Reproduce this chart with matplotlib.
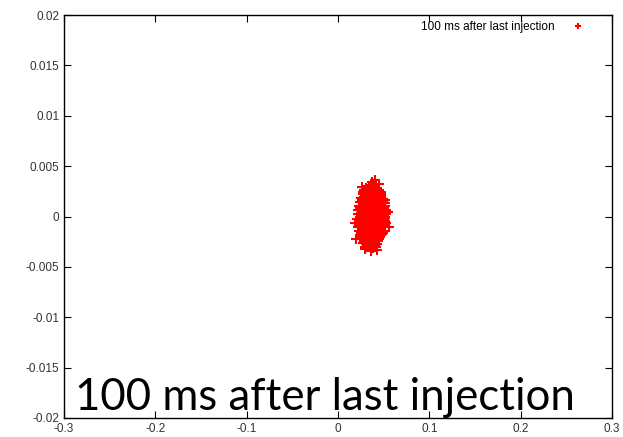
import numpy as np
import matplotlib
matplotlib.use('Agg')
from matplotlib import pyplot as plt

# estimated particle positions (x, y)
xs = [0.037, 0.040,
      0.034, 0.038, 0.041,
      0.029, 0.033, 0.037, 0.041, 0.045,
      0.027, 0.031, 0.035, 0.039, 0.043, 0.047,
      0.025, 0.029, 0.033, 0.037, 0.041, 0.045, 0.049,
      0.024, 0.028, 0.032, 0.036, 0.040, 0.044, 0.048, 0.051,
      0.023, 0.027, 0.031, 0.035, 0.039, 0.043, 0.047, 0.051,
      0.022, 0.026, 0.030, 0.034, 0.038, 0.042, 0.046, 0.050, 0.053,
      0.022, 0.025, 0.029, 0.033, 0.037, 0.041, 0.045, 0.049, 0.053,
      0.021, 0.026, 0.030, 0.034, 0.038, 0.042, 0.046, 0.050, 0.052,
      0.022, 0.025, 0.029, 0.033, 0.037, 0.041, 0.045, 0.049, 0.053,
      0.022, 0.026, 0.030, 0.034, 0.038, 0.042, 0.046, 0.050,
      0.023, 0.027, 0.031, 0.035, 0.039, 0.043, 0.047, 0.050,
      0.024, 0.028, 0.032, 0.036, 0.040, 0.044, 0.048,
      0.025, 0.029, 0.033, 0.037, 0.041, 0.045,
      0.027, 0.031, 0.035, 0.039, 0.043,
      0.030, 0.034, 0.038, 0.042,
      # in-between rows
      0.031, 0.035, 0.039, 0.043,
      0.027, 0.031, 0.035, 0.039, 0.043, 0.047,
      0.026, 0.030, 0.034, 0.038, 0.042, 0.046, 0.049,
      0.024, 0.028, 0.032, 0.036, 0.040, 0.044, 0.048,
      0.024, 0.028, 0.032, 0.036, 0.040, 0.044, 0.048, 0.051,
      0.024, 0.028, 0.032, 0.036, 0.040, 0.044, 0.048, 0.051,
      0.024, 0.028, 0.032, 0.036, 0.040, 0.044, 0.048, 0.051,
      0.025, 0.029, 0.033, 0.037, 0.041, 0.045, 0.049,
      0.026, 0.030, 0.034, 0.038, 0.042, 0.046,
      0.028, 0.032, 0.036, 0.040, 0.044,
      0.032, 0.036, 0.040,
      # stragglers
      0.020, 0.056, 0.045, 0.030, 0.047, 0.019, 0.043, 0.052, 0.036, 0.055, 0.026, 0.040]
ys = [0.0034, 0.0036,
      0.0030, 0.0031, 0.0029,
      0.0026, 0.0027, 0.0026, 0.0025, 0.0026,
      0.0022, 0.0021, 0.0023, 0.0022, 0.0021, 0.0022,
      0.0018, 0.0019, 0.0017, 0.0018, 0.0019, 0.0018, 0.0017,
      0.0014, 0.0013, 0.0015, 0.0014, 0.0013, 0.0014, 0.0015, 0.0013,
      0.0010, 0.0011, 0.0009, 0.0010, 0.0011, 0.0010, 0.0009, 0.0010,
      0.0006, 0.0007, 0.0005, 0.0006, 0.0007, 0.0006, 0.0005, 0.0006, 0.0006,
      0.0002, 0.0003, 0.0001, 0.0002, 0.0003, 0.0002, 0.0001, 0.0002, 0.0002,
      -0.0002, -0.0001, -0.0003, -0.0002, -0.0001, -0.0002, -0.0003, -0.0002, -0.0001,
      -0.0006, -0.0005, -0.0007, -0.0006, -0.0005, -0.0006, -0.0007, -0.0006, -0.0006,
      -0.0010, -0.0011, -0.0009, -0.0010, -0.0011, -0.0010, -0.0009, -0.0010,
      -0.0014, -0.0013, -0.0015, -0.0014, -0.0013, -0.0014, -0.0015, -0.0014,
      -0.0018, -0.0019, -0.0017, -0.0018, -0.0019, -0.0018, -0.0017,
      -0.0022, -0.0021, -0.0023, -0.0022, -0.0021, -0.0022,
      -0.0026, -0.0027, -0.0025, -0.0026, -0.0027,
      -0.0030, -0.0029, -0.0031, -0.0030,
      # in-between rows
      0.0028, 0.0028, 0.0028, 0.0027,
      0.0024, 0.0024, 0.0024, 0.0024, 0.0023, 0.0024,
      0.0016, 0.0016, 0.0016, 0.0016, 0.0016, 0.0016, 0.0015,
      0.0008, 0.0008, 0.0008, 0.0008, 0.0008, 0.0008, 0.0008,
      0.0000, 0.0000, 0.0000, 0.0000, 0.0000, 0.0000, 0.0000, 0.0000,
      -0.0004, -0.0004, -0.0004, -0.0004, -0.0004, -0.0004, -0.0004, -0.0004,
      -0.0008, -0.0008, -0.0008, -0.0008, -0.0008, -0.0008, -0.0008, -0.0008,
      -0.0016, -0.0016, -0.0016, -0.0016, -0.0016, -0.0016, -0.0016,
      -0.0020, -0.0020, -0.0020, -0.0020, -0.0020, -0.0020,
      -0.0024, -0.0024, -0.0024, -0.0024, -0.0024,
      -0.0028, -0.0028, -0.0028,
      # stragglers
      -0.0022, -0.0010, 0.0032, -0.0032, -0.0018, -0.0006, -0.0033, 0.0016, -0.0034, 0.0004, 0.0029, -0.0030]

label = '100 ms after last injection'
xticks = [-0.3, -0.2, -0.1, 0, 0.1, 0.2, 0.3]
yticks = [-0.02, -0.015, -0.01, -0.005, 0, 0.005, 0.01, 0.015, 0.02]

plt.rcParams['font.family'] = ['Liberation Sans', 'DejaVu Sans']

fig = plt.figure(figsize=(6.23, 4.37), dpi=100)
ax = fig.add_axes([64/623, 1 - 418/437, (612 - 64)/623, (418 - 15)/437])

ax.plot(xs, ys, '+', color='red', markersize=7, markeredgewidth=1.5, label=label)

ax.set_xlim([-0.3, 0.3])
ax.set_ylim([-0.02, 0.02])
ax.set_xticks(xticks)
ax.set_yticks(yticks)
ax.set_xticklabels(['-0.3', '-0.2', '-0.1', '0', '0.1', '0.2', '0.3'])
ax.set_yticklabels(['-0.02', '-0.015', '-0.01', '-0.005', '0', '0.005', '0.01', '0.015', '0.02'])
ax.tick_params(direction='in', top=True, right=True, length=5, labelsize=8.5, labelcolor='#333333')
for s in ax.spines.values():
    s.set_linewidth(1.0)

leg = ax.legend(loc='upper right', bbox_to_anchor=(0.96, 0.997), markerfirst=False,
                frameon=False, fontsize=8.5, handlelength=1.2, markerscale=0.6,
                borderaxespad=0, handletextpad=1.4)

fig.text(75/623, 1 - 410/437, label, fontsize=31.5, family=['Lato', 'DejaVu Sans'], color='black')

plt.savefig('out.png', dpi=100)
